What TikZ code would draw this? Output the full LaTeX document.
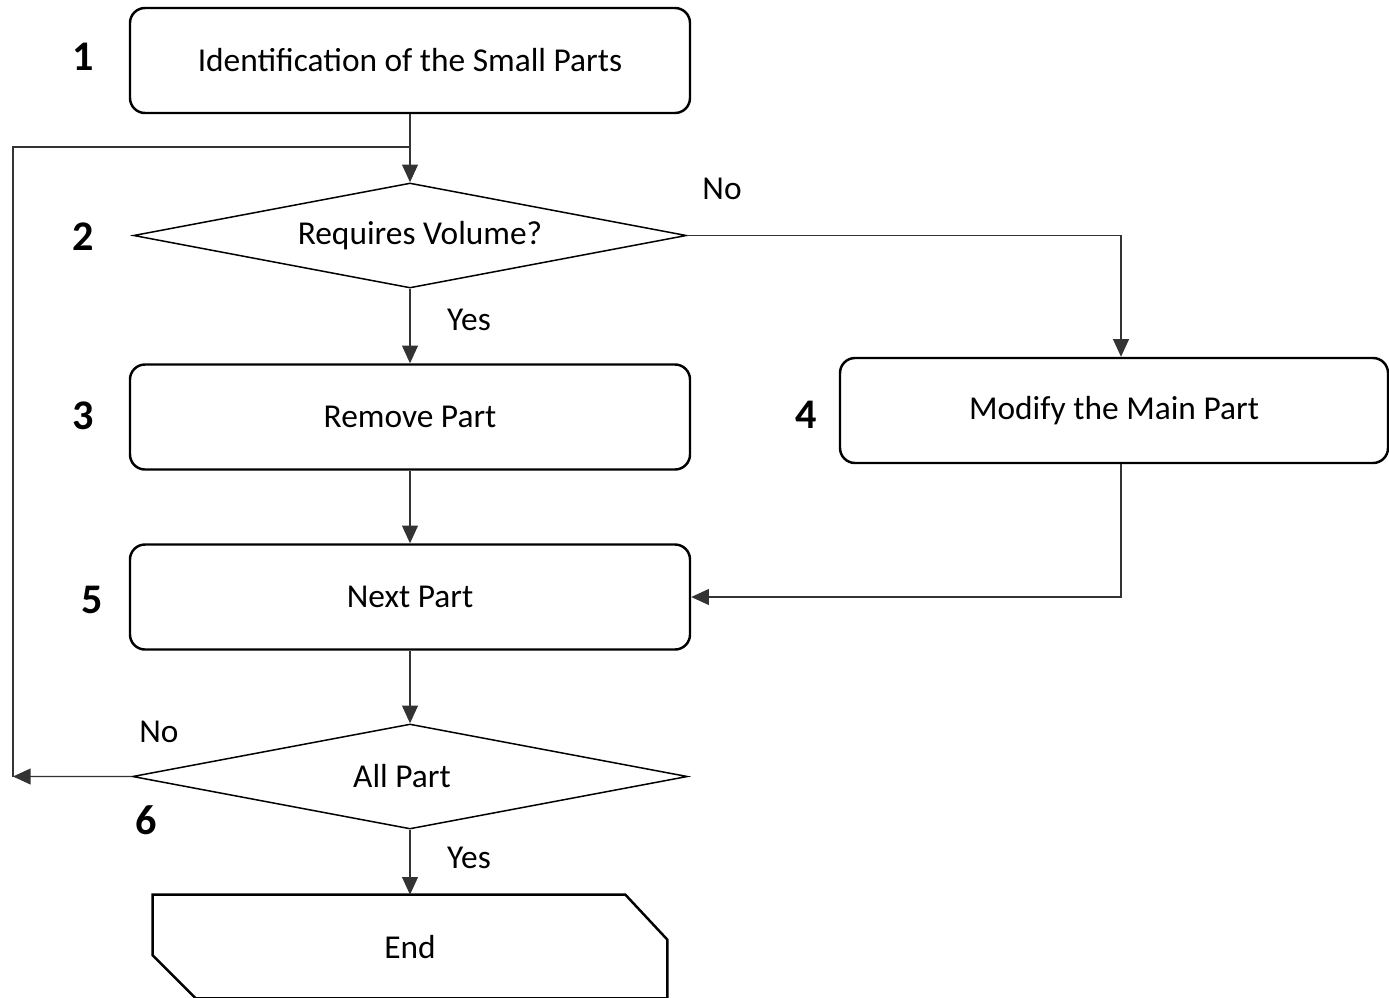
\documentclass[tikz,border=0pt]{standalone}
\usepackage{fontspec}
\setmainfont{Carlito}
\usetikzlibrary{shapes.geometric, arrows.meta}
\tikzstyle{process} = [rectangle, rounded corners=0.3cm, minimum width=11.2cm, minimum height=2.1cm, text centered, draw=black, line width=1.4pt]
\tikzstyle{decision} = [diamond, aspect=5.3, minimum width=11.06cm, minimum height=2.1cm, inner sep=0pt, text centered, draw=black, line width=0.85pt]
\tikzstyle{stopbox} = [rectangle, minimum width=10.28cm, minimum height=2.06cm, text centered]
\tikzstyle{outline} = [draw=black, line width=1.4pt]
\tikzstyle{arrow} = [draw=black!80, line width=0.75pt, -{Triangle[length=10pt,width=9pt]}]
\tikzstyle{line} = [draw=black!80, line width=0.75pt]
\tikzstyle{num} = [font=\fontsize{24}{28}\selectfont\bfseries]
\tikzstyle{lbl} = [inner sep=0pt]

\begin{document}
\begin{tikzpicture}[node distance=3.6cm, font=\fontsize{19}{23}\selectfont]
\useasboundingbox (0,0) rectangle (27.78,-19.94);

\node (pro1) [process] at (8.2,-1.21) {Identification of the Small Parts};
\node (dec2) [decision, below of=pro1, yshift=0.1cm] {\hspace*{0.4cm}Requires Volume?};
\node (pro3) [process, below of=dec2, yshift=-0.03cm] {Remove Part};
\node (pro4) [process, right of=pro3, xshift=10.48cm, yshift=0.13cm, minimum width=10.96cm] {Modify the Main Part};
\node (pro5) [process, below of=pro3] {Next Part};
\node (dec6) [decision, below of=pro5, yshift=0.01cm, minimum width=11.1cm] {All Part\hspace*{0.32cm}};
\node (stop) [stopbox, below of=dec6, yshift=0.2cm] {End};

% chamfered outline of the end box
\draw [outline] (stop.north west) -- ([xshift=-0.84cm]stop.north east)
  -- ([yshift=-0.9cm]stop.north east) -- (stop.south east)
  -- ([xshift=0.86cm]stop.south west) -- ([yshift=0.86cm]stop.south west) -- cycle;

% step numbers
\node (n1) [num] at (1.66,-1.14) {1};
\node (n2) [num] at (1.66,-4.74) {2};
\node (n3) [num] at (1.66,-8.32) {3};
\node (n4) [num] at (16.12,-8.3) {4};
\node (n5) [num] at (1.84,-12.0) {5};
\node (n6) [num] at (2.92,-16.4) {6};

% answers
\node (no2) [lbl] at (14.44,-3.78) {No};
\node (yes2) [lbl] at (9.38,-6.4) {Yes};
\node (no6) [lbl] at (3.18,-14.64) {No};
\node (yes6) [lbl] at (9.38,-17.16) {Yes};

\coordinate (loopL) at (0.26,-15.53);
\coordinate (loopT) at (8.2,-2.94);

\draw [arrow] (pro1) -- (dec2);
\draw [arrow] (dec2.east) -| ([xshift=0.14cm]pro4.north);
\draw [arrow] (dec2) -- (pro3);
\draw [arrow] (pro3) -- (pro5);
\draw [arrow] ([xshift=0.14cm]pro4.south) |- (pro5.east);
\draw [arrow] (pro5) -- (dec6);
\draw [arrow] (dec6) -- (stop);
\draw [arrow] (dec6.west) -- (loopL);
\draw [line] (loopL) |- (loopT);
\end{tikzpicture}
\end{document}
